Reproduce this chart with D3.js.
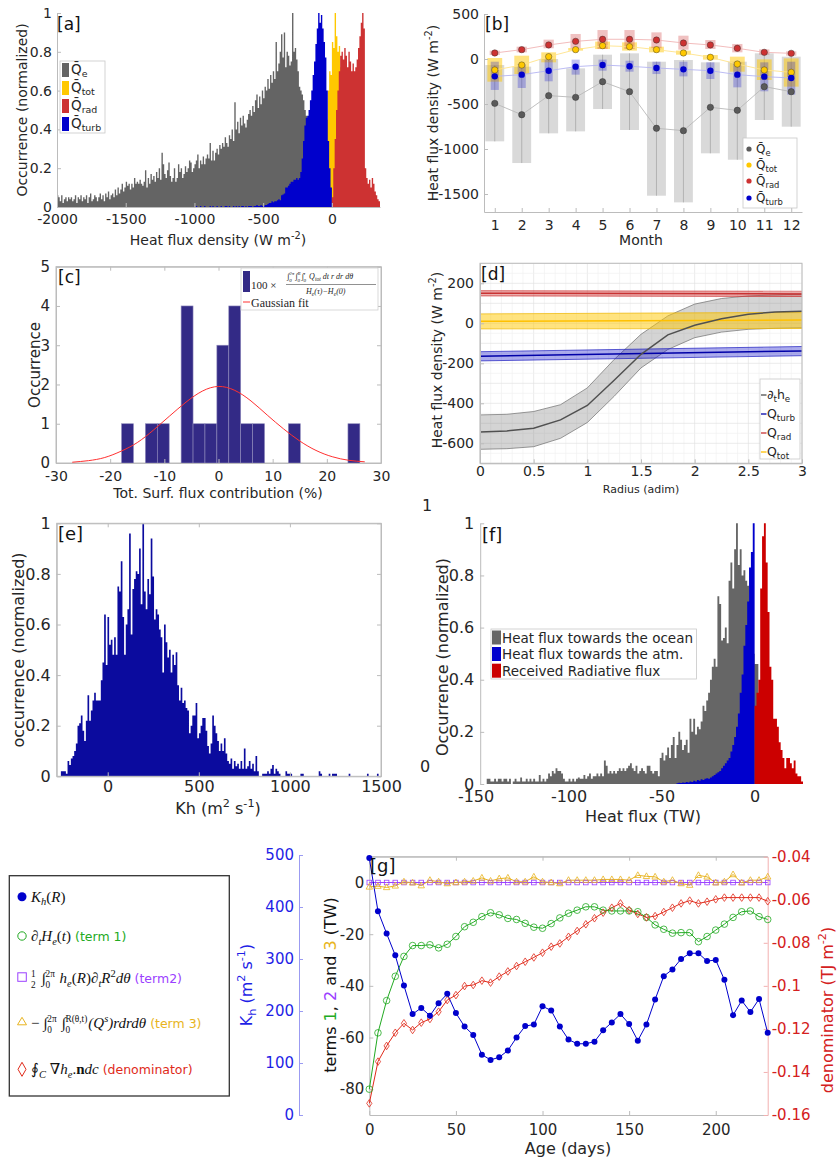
<!DOCTYPE html>
<html>
<head>
<script src="https://d3js.org/d3.v7.min.js"></script>
<style>
  body { margin: 0; background: #fff; }
  svg text { font-family: "DejaVu Sans", sans-serif; }
</style>
</head>
<body>
<svg id="fig" width="838" height="1160"></svg>
<script>
// ---------------- data ----------------
// [a] histograms, bin width 10 W m-2, value = normalized occurrence
const aBin = 10;
const aQeStart = -2000;
const aQe = [
  0.06,0.05,0.03,0.06,0.02,0.04,0.05,0.03,0.05,0.04,
  0.05,0.03,0.04,0.06,0.02,0.05,0.04,0.06,0.03,0.05,
  0.04,0.06,0.02,0.05,0.07,0.03,0.04,0.06,0.05,0.03,
  0.05,0.07,0.04,0.06,0.03,0.07,0.05,0.08,0.04,0.06,
  0.07,0.05,0.09,0.06,0.1,0.07,0.09,0.12,0.08,0.1,
  0.13,0.11,0.12,0.09,0.12,0.1,0.15,0.12,0.13,0.12,
  0.14,0.12,0.11,0.13,0.19,0.1,0.15,0.12,0.17,0.14,
  0.16,0.13,0.18,0.15,0.2,0.14,0.28,0.22,0.17,0.15,
  0.19,0.23,0.16,0.13,0.15,0.2,0.13,0.15,0.22,0.18,
  0.2,0.15,0.17,0.21,0.18,0.2,0.24,0.23,0.18,0.2,
  0.22,0.24,0.27,0.2,0.24,0.22,0.26,0.22,0.25,0.27,
  0.25,0.33,0.24,0.29,0.24,0.28,0.3,0.27,0.32,0.3,
  0.33,0.31,0.36,0.33,0.31,0.37,0.35,0.4,0.34,0.54,
  0.4,0.44,0.38,0.46,0.42,0.47,0.43,0.41,0.45,0.48,
  0.5,0.47,0.52,0.49,0.55,0.58,0.51,0.57,0.53,0.6,
  0.56,0.62,0.6,0.66,0.61,0.68,0.64,0.7,0.66,0.85,
  0.7,0.74,0.8,0.89,0.77,0.9,0.72,0.8,0.78,0.73,
  0.75,1.0,0.8,0.82,0.76,0.7,0.62,0.6,0.58,0.55,
  0.5,0.47,0.42,0.38,0.35,0.3,0.25,0.2,0.15,0.1,
  0.06,0.04,0.02,0.01,0,0
];
const aTurbStart = -1000;
const aTurb = [
  0,0.005,0,0,0.005,0,0,0.005,0,0,
  0,0.005,0,0.005,0,0,0.005,0,0,0.005,
  0,0,0.005,0.005,0,0.005,0,0,0.005,0,
  0.005,0,0.005,0,0.005,0.005,0,0.005,0,0.005,
  0.005,0.005,0,0.005,0.005,0.01,0.005,0.005,0.01,0.005,
  0.005,0.01,0.01,0.015,0.02,0.02,0.03,0.025,0.03,0.03,
  0.035,0.04,0.035,0.06,0.065,0.07,0.1,0.1,0.11,0.12,
  0.13,0.13,0.14,0.14,0.15,0.14,0.15,0.18,0.25,0.34,
  0.42,0.46,0.47,0.5,0.55,0.6,0.68,0.75,0.84,0.92,
  1.0,0.95,0.99,0.92,0.85,0.77,0.6,0.34,0.2,0.1
];
const aTotStart = -70;
const aTot = [0.03,0.1,0.3,0.45,0.6,0.7,0.68,0.85,0.82,1.0,0.88,0.8,0.83,0.72,0.55,0.35,0.15,0.05];
const aRadStart = 0;
const aRad = [0.05,0.2,0.35,0.5,0.6,0.7,0.78,0.8,0.76,0.82,0.78,0.72,0.8,0.75,0.7,0.74,0.7,0.72,
  0.76,0.82,0.88,0.95,1.0,0.92,0.2,0.15,0.12,0.14,0.1,0.15,0.12,0.08,0.06,0.04,0.03];
const aXTicks = [-2000, -1500, -1000, -500, 0];
const yTicks01 = [0, 0.2, 0.4, 0.6, 0.8, 1];

// [b] monthly statistics (W m-2)
const months = [1,2,3,4,5,6,7,8,9,10,11,12];
const bQeMean = [-493,-619,-407,-426,-252,-363,-770,-796,-537,-570,-307,-363];
const bQeHi   = [-67,-85,0,-104,48,63,-30,-11,-37,-30,63,26];
const bQeLo   = [-915,-1156,-826,-804,-556,-789,-1519,-1593,-1048,-1119,-678,-752];
const bTotMean = [-122,-67,26,104,148,137,104,67,19,-56,-122,-148];
const bTotHi   = [11,37,74,122,193,185,137,93,44,26,-4,7];
const bTotLo   = [-252,-167,-37,93,111,93,74,48,-7,-141,-233,-307];
const bRadMean = [67,104,156,196,219,219,211,178,156,119,74,63];
const bRadHi   = [93,137,215,278,322,322,296,259,211,167,107,85];
const bRadLo   = [44,74,119,119,111,111,119,104,111,74,48,37];
const bTurbMean = [-193,-174,-130,-85,-67,-81,-100,-115,-130,-174,-196,-211];
const bTurbHi   = [-30,-56,-7,-7,-7,-19,-30,-30,-37,-37,-37,-30];
const bTurbLo   = [-344,-322,-248,-174,-130,-141,-167,-193,-222,-315,-359,-396];
const bYTicks = [500, 0, -500, -1000, -1500];

// [c] histogram of contributions (%)
const cStart = -17.9, cBin = 2.2;
const cCounts = [1,0,1,1,0,4,1,1,3,4,1,1,0,0,1,0,0,0,0,1];
const cGaussX = [-27,-24,-21,-18,-15,-12,-9,-6,-3,0,3,6,9,12,15,18,21,24,27];
const cGaussY = [0.02,0.06,0.14,0.3,0.52,0.84,1.2,1.55,1.83,1.95,1.85,1.58,1.22,0.87,0.56,0.32,0.16,0.07,0.03];
const cXTicks = [-30,-20,-10,0,10,20,30];
const cYTicks = [0,1,2,3,4,5];

// [d] radial profiles (W m-2)
const dR    = [0,0.25,0.5,0.75,1,1.25,1.5,1.75,2,2.25,2.5,2.75,3];
const dHe   = [-543,-538,-525,-483,-411,-285,-155,-58,-10,23,45,57,60];
const dHeHi = [-458,-455,-441,-407,-323,-181,-55,37,96,124,137,142,146];
const dHeLo = [-630,-627,-617,-575,-496,-365,-223,-131,-72,-44,-30,-25,-22];
const dFlatR = [0, 3];
const dRad = [150,147], dRadHi = [163,160], dRadLo = [137,134];
const dTot = [10,16], dTotHi = [47,55], dTotLo = [-28,-26];
const dTurb = [-165,-138], dTurbHi = [-142,-116], dTurbLo = [-188,-162];
const dXTicks = [0,0.5,1,1.5,2,2.5,3];
const dYTicks = [200,0,-200,-400,-600];

// [e] Kh histogram
const eStart = -257, eBin = 9.13;
const eVals = [
  0.02,0.02,0.02,0.01,0.06,0.045,0.07,0.08,0.1,0.13,
  0.2,0.21,0.24,0.18,0.14,0.22,0.32,0.22,0.26,0.3,
  0.33,0.3,0.3,0.3,0.38,0.45,0.64,0.44,0.63,0.52,
  0.54,0.48,0.55,0.48,0.75,0.73,0.85,0.63,0.48,0.6,
  0.66,0.96,0.56,0.74,0.78,0.81,0.8,0.9,0.68,1.0,
  0.73,0.66,0.78,0.72,0.94,0.79,0.62,0.66,0.64,0.58,
  0.55,0.41,0.6,0.53,0.47,0.5,0.41,0.48,0.44,0.49,
  0.36,0.3,0.35,0.29,0.3,0.27,0.26,0.17,0.2,0.24,
  0.24,0.29,0.15,0.17,0.2,0.23,0.23,0.18,0.12,0.09,
  0.13,0.24,0.2,0.17,0.14,0.1,0.13,0.1,0.15,0.09,
  0.06,0.05,0.07,0.03,0.06,0.04,0.05,0.03,0.06,0.03,
  0.11,0.03,0.04,0.06,0.03,0.05,0.02,0.08,0.02,0,
  0,0.01,0.01,0.01,0.02,0.01,0.03,0.045,0.01,0.03,
  0.02,0.01,0,0,0,0.02,0.01,0.01,0.01,0,
  0,0,0,0,0.01,0.01,0,0,0,0,
  0,0,0,0,0,0.02,0.01,0,0,0,
  0,0.01,0,0.01,0.01,0.01,0,0,0,0,
  0,0,0,0.01,0,0,0,0,0,0,
  0,0,0,0,0.01,0,0,0,0,0,
  0.01
];
const eXTicks = [0,500,1000,1500];

// [f] integrated fluxes (TW), bin width 1
const fBin = 1;
const fGrayStart = -147;
const fGray = [
  0,0,0,0.02,0.02,0.01,0.01,0.02,0.01,0.02,
  0.02,0.01,0.02,0.02,0.01,0.02,0,0.01,0.02,0.01,
  0.01,0.025,0.01,0.01,0.02,0.01,0.02,0.01,0.02,0.01,
  0.01,0.035,0.01,0.02,0.01,0.02,0.04,0.03,0.05,0.04,
  0.06,0.05,0.05,0.04,0.02,0.01,0.01,0.02,0.01,0.02,
  0.01,0.02,0.025,0.02,0.02,0.035,0.02,0.03,0.04,0.02,
  0.03,0.03,0.04,0.03,0.04,0.03,0.09,0.07,0.04,0.05,
  0.04,0.05,0.04,0.05,0.06,0.05,0.06,0.05,0.06,0.07,
  0.08,0.06,0.05,0.07,0.04,0.05,0.06,0.05,0.04,0.07,
  0.07,0.05,0.04,0.05,0.05,0.03,0.1,0.12,0.09,0.11,
  0.14,0.1,0.15,0.18,0.1,0.15,0.2,0.17,0.13,0.15,
  0.17,0.12,0.25,0.2,0.25,0.19,0.22,0.21,0.24,0.3,
  0.28,0.32,0.35,0.4,0.45,0.48,0.45,0.72,0.69,0.55,
  0.56,0.6,0.54,0.78,0.85,0.75,0.9,1.0,0.84,0.9,
  0.8,0.82,0.78,0.76,0.7,0.6,0.5,0.46,0.46,0.3
];
const fBlueStart = -42;
const fBlue = [
  0.003,0.005,0.004,0.006,0.005,0.008,0.006,0.01,0.008,0.012,0.01,0.015,
  0.012,0.018,0.015,0.02,0.022,0.02,0.025,0.03,0.035,0.04,
  0.045,0.05,0.06,0.07,0.08,0.09,0.1,0.125,0.15,0.18,
  0.22,0.27,0.35,0.42,0.53,0.61,0.7,0.83,0.89,1.0
];
const fRedStart = 0;
const fRed = [0.3,0.35,0.4,0.75,0.95,1.0,0.85,0.66,0.45,0.4,0.25,0.25,0.22,0.16,0.13,0.1,0.06,0.1,0.1,0.08,0.06,0.09,0.04,0.03,0.03,0.01];
const fXTicks = [-150,-100,-50,0];

// [g] time series vs age (days)
const gDays = [0,5,10,15,20,25,30,35,40,45,50,55,60,65,70,75,80,85,90,95,100,105,110,115,120,125,130,135,140,145,150,155,160,165,170,175,180,185,190,195,200,205,210,215,220,225,230];
const gKh = [494,392,349,307,249,194,206,191,215,233,196,170,154,116,106,111,124,149,171,174,209,
  201,170,145,137,137,141,163,178,194,175,143,174,222,267,280,300,311,311,296,298,260,192,220,198,223,158];
const gTerm1 = [-80,-58.2,-45.7,-36.3,-28.6,-24.4,-24.4,-24.1,-25.3,-23.9,-20.9,-17.1,-15.4,-13.2,-11.7,-12.5,-13.9,-14.3,-15.8,-17.3,-17.7,
  -15.9,-13.7,-11.9,-10.7,-9.4,-9.4,-10.7,-11.0,-11.0,-11.0,-11.3,-13.5,-16.4,-18.1,-19.6,-19.4,-19.4,-22.9,-20.9,-18.4,-16.1,-13.5,-11.3,-11.0,-13.2,-14.3];
const gTerm2 = [0,0,0,0,0,0,0,0,0,0,0,0,0,0,0,0,0,0,0,0,0,0,0,0,0,0,0,0,0,0,0,0,0,0,0,0,0,0,0,0,0,0,0,0,0,0,0];
const gTerm3 = [-1.7,-1.4,-1.9,-1.3,0.3,-0.1,-1.2,0.9,0.3,-0.4,0,0.3,0.6,1.8,0.6,1.5,1.8,0.3,0.3,2.2,0.3,
  0,-0.4,0.9,0.9,0.9,0.9,1.2,1.2,1.2,0.9,2.8,2.4,2.2,0.3,0.9,-0.4,-1.0,2.8,2.2,-0.1,0.3,3.1,-0.1,0.9,0.9,2.2];
const gDenom = [-0.1546,-0.1352,-0.1279,-0.1218,-0.1174,-0.1205,-0.1171,-0.1154,-0.1120,-0.1066,-0.1043,-0.1001,-0.0996,-0.0976,-0.0985,-0.0957,-0.0933,-0.0908,-0.0888,-0.0868,-0.0846,
  -0.0818,-0.0803,-0.0772,-0.0745,-0.0714,-0.0686,-0.0660,-0.0637,-0.0617,-0.0648,-0.0666,-0.0682,-0.0676,-0.0657,-0.0637,-0.0617,-0.0604,-0.0617,-0.0609,-0.0598,-0.0590,-0.0590,-0.0590,-0.0590,-0.0590,-0.0607];
const gXTicks = [0,50,100,150,200];
const gYTicks = [0,-20,-40,-60,-80];
const gKhTicks = [0,100,200,300,400,500];
const gDenTicks = [-0.04,-0.06,-0.08,-0.1,-0.12,-0.14,-0.16];

// ---------------- helpers ----------------
const svg = d3.select('#fig');
const AX = '#bcbcbc';
const TXT = '#262626';
const SERIF = '"Liberation Serif", "DejaVu Serif", serif';

function styleAxis(g, size, color, lineColor) {
  g.selectAll('.domain').attr('stroke', lineColor || AX);
  g.selectAll('.tick line').attr('stroke', lineColor || AX);
  g.selectAll('.tick text').attr('font-size', size).attr('fill', color || TXT)
    .attr('font-family', '"DejaVu Sans", sans-serif');
}

// histogram drawn as one stepped area (no seams between neighbouring bins)
function histo(g, x, y, start, w, vals, fill) {
  const pts = vals.map((v, i) => ({ e: start + i * w, v }));
  pts.push({ e: start + vals.length * w, v: vals[vals.length - 1] });
  g.append('path').datum(pts)
    .attr('d', d3.area().curve(d3.curveStepAfter).x(d => x(d.e)).y0(y(0)).y1(d => y(d.v)))
    .attr('fill', fill);
}

function bars(g, x, y, start, w, vals, fill, stroke) {
  const data = vals.map((v, i) => ({ x0: start + i * w, x1: start + (i + 1) * w, v }))
    .filter(d => d.v > 0);
  g.selectAll(null).data(data).join('rect')
    .attr('x', d => x(d.x0)).attr('width', d => x(d.x1) - x(d.x0))
    .attr('y', d => y(d.v)).attr('height', d => y(0) - y(d.v))
    .attr('fill', fill).attr('stroke', stroke || 'none').attr('stroke-width', 0.6);
}

// text with tspans: parts = [text, kind, extra]; kind '', 'sub', 'sup', 'stack'
function rich(parent, x, y, parts, o = {}) {
  const size = o.size || 13;
  const t = parent.append('text').attr('x', x).attr('y', y)
    .attr('font-size', size).attr('text-anchor', o.anchor || 'start')
    .attr('fill', o.fill || TXT)
    .style('font-family', o.font || '"DejaVu Sans", sans-serif');
  if (o.rot) t.attr('transform', `rotate(-90,${x},${y})`);
  if (o.it) t.attr('font-style', 'italic');
  let cur = 0, pendingDx = 0;
  parts.forEach(p => {
    const s = p[0], k = p[1] || '', ext = p[2] || {};
    const sz = ext.size || size;
    if (k === 'stack') {
      // s = [lower, upper]
      const lo = t.append('tspan').text(s[0]).attr('font-size', sz * 0.62)
        .attr('dy', 0.32 * sz - cur).attr('dx', pendingDx);
      const loLen = lo.node().getComputedTextLength();
      const up = t.append('tspan').text(s[1]).attr('font-size', sz * 0.62)
        .attr('dy', -0.45 * sz - 0.32 * sz).attr('dx', -loLen);
      const upLen = up.node().getComputedTextLength();
      cur = -0.45 * sz;
      pendingDx = Math.max(0, loLen - upLen) + 1;
      return;
    }
    let off = 0, fs = sz;
    if (k === 'sup') { off = -0.42 * sz; fs = sz * 0.7; }
    if (k === 'sub') { off = 0.25 * sz; fs = sz * 0.7; }
    const ts = t.append('tspan').text(s).attr('dy', off - cur).attr('font-size', fs);
    if (pendingDx) ts.attr('dx', pendingDx + (ext.dx || 0));
    else if (ext.dx) ts.attr('dx', ext.dx);
    pendingDx = 0;
    cur = off;
    if (ext.fill) ts.attr('fill', ext.fill);
    if (ext.it === true) ts.attr('font-style', 'italic');
    if (ext.it === false) ts.attr('font-style', 'normal');
    if (ext.font) ts.style('font-family', ext.font);
    if (ext.bold) ts.attr('font-weight', 'bold');
  });
  return t;
}

function label(x, y, s, size) {
  svg.append('text').attr('x', x).attr('y', y).text(s)
    .attr('font-size', size || 17).attr('fill', '#111');
}

// ---------------- panel a ----------------
{
  const g = svg.append('g');
  const x = d3.scaleLinear().domain([-2000, 350]).range([57, 380]);
  const y = d3.scaleLinear().domain([0, 1]).range([207, 13]);
  histo(g, x, y, aQeStart, aBin, aQe, '#646464');
  histo(g, x, y, aTotStart, aBin, aTot, '#ffc800');
  histo(g, x, y, aTurbStart, aBin, aTurb, '#0000cc');
  histo(g, x, y, aRadStart, aBin, aRad, '#cd3232');
  g.append('g').attr('transform', 'translate(57,0)')
    .call(d3.axisLeft(y).tickValues(yTicks01).tickFormat(d => String(d)).tickSize(-4).tickSizeOuter(0).tickPadding(5))
    .call(styleAxis, 14);
  g.append('g').attr('transform', 'translate(0,207)')
    .call(d3.axisBottom(x).tickValues(aXTicks).tickFormat(d => String(d)).tickSize(-4).tickSizeOuter(0).tickPadding(7))
    .call(styleAxis, 14);
  rich(svg, 218, 245, [['Heat flux density (W m'], ['-2', 'sup'], [')']], { size: 14, anchor: 'middle' });
  rich(svg, 27, 110, [['Occurrence (normalized)']], { size: 14, anchor: 'middle', rot: true });
  label(57, 30, '[a]');
  // legend
  svg.append('rect').attr('x', 60).attr('y', 61).attr('width', 45).attr('height', 72)
    .attr('fill', '#fff').attr('stroke', '#c8c8c8').attr('stroke-width', 0.8);
  const items = [['e', '#646464'], ['tot', '#ffc800'], ['rad', '#cd3232'], ['turb', '#0000cc']];
  items.forEach((it, i) => {
    const cy = 70 + i * 18;
    svg.append('rect').attr('x', 62).attr('y', cy - 7).attr('width', 7).attr('height', 14).attr('fill', it[1]);
    rich(svg, 71, cy + 4, [['Q\u0304'], [it[0], 'sub']], { size: 13.5 });
  });
}

// ---------------- panel b ----------------
{
  const g = svg.append('g');
  const x = d3.scaleLinear().domain([0.6, 12.4]).range([484, 802]);
  const y = d3.scaleLinear().domain([-1700, 500]).range([212, 14]);
  const ux = x(1) - x(0);
  const boxes = (hi, lo, w, fill) => {
    g.selectAll(null).data(months).join('rect')
      .attr('x', (m) => x(m) - w * ux / 2).attr('width', w * ux)
      .attr('y', (m, i) => y(hi[i])).attr('height', (m, i) => Math.max(1.5, y(lo[i]) - y(hi[i])))
      .attr('fill', fill);
  };
  boxes(bQeHi, bQeLo, 0.7, '#d9d9d9');
  g.selectAll(null).data(months).join('line')
    .attr('x1', m => x(m)).attr('x2', m => x(m))
    .attr('y1', (m, i) => y(bQeHi[i])).attr('y2', (m, i) => y(bQeLo[i]))
    .attr('stroke', '#a8a8a8').attr('stroke-width', 0.8);
  boxes(bTotHi, bTotLo, 0.55, 'rgba(255,200,0,0.5)');
  boxes(bRadHi, bRadLo, 0.38, 'rgba(205,50,50,0.3)');
  boxes(bTurbHi, bTurbLo, 0.3, 'rgba(0,0,204,0.25)');
  const series = [[bQeMean, '#5a5a5a', '#b9b9b9'], [bTotMean, '#ffc800', '#ffe38a'],
                  [bRadMean, '#cd3232', '#f0b4b4'], [bTurbMean, '#0000cc', '#b4b4f2']];
  series.forEach(s => {
    g.append('path').datum(s[0])
      .attr('d', d3.line().x((d, i) => x(months[i])).y(d => y(d)))
      .attr('fill', 'none').attr('stroke', s[2]).attr('stroke-width', 0.9);
  });
  series.forEach(s => {
    g.selectAll(null).data(s[0]).join('circle')
      .attr('cx', (d, i) => x(months[i])).attr('cy', d => y(d)).attr('r', 3.2)
      .attr('fill', s[1]).attr('stroke', s[1] === '#0000cc' ? 'none' : 'rgba(40,40,40,0.7)').attr('stroke-width', 0.6);
  });
  g.append('g').attr('transform', 'translate(484,0)')
    .call(d3.axisLeft(y).tickValues(bYTicks).tickFormat(d => String(d)).tickSize(-4).tickSizeOuter(0).tickPadding(5))
    .call(styleAxis, 14);
  g.append('g').attr('transform', 'translate(0,212)')
    .call(d3.axisBottom(x).tickValues(months).tickFormat(d => String(d)).tickSize(-4).tickSizeOuter(0).tickPadding(8))
    .call(styleAxis, 14);
  rich(svg, 641, 245, [['Month']], { size: 14, anchor: 'middle' });
  rich(svg, 438, 113, [['Heat flux density (W m'], ['-2', 'sup'], [')']], { size: 14, anchor: 'middle', rot: true });
  label(485, 30, '[b]');
  svg.append('rect').attr('x', 743).attr('y', 138).attr('width', 54).attr('height', 70)
    .attr('fill', '#fff').attr('stroke', '#c8c8c8').attr('stroke-width', 0.8);
  const items = [['e', '#5a5a5a'], ['tot', '#ffc800'], ['rad', '#cd3232'], ['turb', '#0000cc']];
  items.forEach((it, i) => {
    const cy = [149, 165, 181, 198][i];
    svg.append('circle').attr('cx', 749).attr('cy', cy).attr('r', 2.6).attr('fill', it[1]);
    rich(svg, 756, cy + 4, [['Q\u0304'], [it[0], 'sub']], { size: 12 });
  });
}

// ---------------- panel c ----------------
{
  const g = svg.append('g');
  const x = d3.scaleLinear().domain([-30, 30]).range([56, 381]);
  const y = d3.scaleLinear().domain([0, 5]).range([463, 266.7]);
  g.append('rect').attr('x', 56).attr('y', 266.7).attr('width', 325).attr('height', 196.3)
    .attr('fill', 'none').attr('stroke', AX);
  bars(g, x, y, cStart, cBin, cCounts, '#332a86', '#8f8abb');
  g.append('path').datum(cGaussX)
    .attr('d', d3.line().curve(d3.curveNatural).x(d => x(d)).y((d, i) => y(cGaussY[i])))
    .attr('fill', 'none').attr('stroke', '#ff3030').attr('stroke-width', 1);
  g.append('g').attr('transform', 'translate(56,0)')
    .call(d3.axisLeft(y).tickValues(cYTicks).tickFormat(d => String(d)).tickSize(-4).tickSizeOuter(0).tickPadding(6))
    .call(styleAxis, 15);
  g.append('g').attr('transform', 'translate(381,0)')
    .call(d3.axisRight(y).tickValues(cYTicks).tickFormat('').tickSize(-4).tickSizeOuter(0))
    .call(styleAxis, 14);
  g.append('g').attr('transform', 'translate(0,463)')
    .call(d3.axisBottom(x).tickValues(cXTicks).tickFormat(d => String(d)).tickSize(-4).tickSizeOuter(0).tickPadding(8))
    .call(styleAxis, 14);
  g.append('g').attr('transform', 'translate(0,266.7)')
    .call(d3.axisTop(x).tickValues(cXTicks).tickFormat('').tickSize(-4).tickSizeOuter(0))
    .call(styleAxis, 14);
  rich(svg, 218, 498, [['Tot. Surf. flux contribution (%)']], { size: 14, anchor: 'middle' });
  rich(svg, 40, 365, [['Occurrence']], { size: 15, anchor: 'middle', rot: true });
  label(58, 283, '[c]');
  // legend
  svg.append('rect').attr('x', 241).attr('y', 268).attr('width', 137).attr('height', 42)
    .attr('fill', '#fff').attr('stroke', '#cfcfcf').attr('stroke-width', 0.8);
  svg.append('rect').attr('x', 243).attr('y', 271).attr('width', 7).attr('height', 21).attr('fill', '#332a86');
  rich(svg, 251, 289, [['100 \u00d7']], { size: 11, font: SERIF });
  rich(svg, 287, 279, [
    ['\u222b'], [['0', '2\u03c0'], 'stack'], ['\u222b'], [['0', 'R'], 'stack'],
    ['\u222b'], [['0', '\u03c4'], 'stack'], [' Q'], ['tot', 'sub'], [' dt  r dr d\u03b8']
  ], { size: 8, font: SERIF, it: true });
  svg.append('line').attr('x1', 286).attr('x2', 376).attr('y1', 284.5).attr('y2', 284.5)
    .attr('stroke', '#222').attr('stroke-width', 0.5);
  rich(svg, 306, 294, [['H'], ['e', 'sub'], ['(\u03c4)\u2212H'], ['e', 'sub'], ['(0)']], { size: 8, font: SERIF, it: true });
  svg.append('line').attr('x1', 243).attr('x2', 250).attr('y1', 302).attr('y2', 302)
    .attr('stroke', '#ff3030').attr('stroke-width', 1);
  rich(svg, 251, 306.5, [['Gaussian fit']], { size: 12, font: SERIF });
}

// ---------------- panel d ----------------
{
  const g = svg.append('g');
  const x = d3.scaleLinear().domain([0, 3]).range([480, 802]);
  const y = d3.scaleLinear().domain([-700, 300]).range([463.3, 263.3]);
  const minorX = d3.range(0, 31).map(i => i / 10);
  const minorY = d3.range(-700, 301, 50);
  g.selectAll(null).data(minorX).join('line')
    .attr('x1', d => x(d)).attr('x2', d => x(d)).attr('y1', 263.3).attr('y2', 463.3)
    .attr('stroke', d => (Math.round(d * 10) % 5 === 0) ? '#e2e2e2' : '#f1f1f1').attr('stroke-width', 0.7);
  g.selectAll(null).data(minorY).join('line')
    .attr('y1', d => y(d)).attr('y2', d => y(d)).attr('x1', 480).attr('x2', 802)
    .attr('stroke', d => (d % 100 === 0) ? '#e2e2e2' : '#f1f1f1').attr('stroke-width', 0.7);
  const band = (r, hi, lo, fill, edge) => {
    g.append('path').datum(r)
      .attr('d', d3.area().x(d => x(d)).y0((d, i) => y(lo[i])).y1((d, i) => y(hi[i])))
      .attr('fill', fill);
    [hi, lo].forEach(arr => g.append('path').datum(r)
      .attr('d', d3.line().x(d => x(d)).y((d, i) => y(arr[i])))
      .attr('fill', 'none').attr('stroke', edge).attr('stroke-width', 0.7));
  };
  band(dR, dHeHi, dHeLo, 'rgba(120,120,120,0.32)', '#6e6e6e');
  band(dFlatR, dRadHi, dRadLo, 'rgba(205,50,50,0.4)', '#cd3232');
  band(dFlatR, dTotHi, dTotLo, 'rgba(255,200,0,0.5)', '#f0b800');
  band(dFlatR, dTurbHi, dTurbLo, 'rgba(0,0,200,0.33)', '#2020c0');
  const line = (r, arr, c) => g.append('path').datum(r)
    .attr('d', d3.line().x(d => x(d)).y((d, i) => y(arr[i])))
    .attr('fill', 'none').attr('stroke', c).attr('stroke-width', 1.5);
  line(dFlatR, dRad, '#c83232');
  line(dFlatR, dTot, '#ffc000');
  line(dFlatR, dTurb, '#0000a8');
  line(dR, dHe, '#505050');
  g.append('rect').attr('x', 480).attr('y', 263.3).attr('width', 322).attr('height', 200)
    .attr('fill', 'none').attr('stroke', AX);
  g.append('g').attr('transform', 'translate(480,0)')
    .call(d3.axisLeft(y).tickValues(dYTicks).tickFormat(d => String(d)).tickSize(-4).tickSizeOuter(0).tickPadding(6))
    .call(styleAxis, 14);
  g.append('g').attr('transform', 'translate(0,463.3)')
    .call(d3.axisBottom(x).tickValues(dXTicks).tickFormat(d => String(d)).tickSize(-4).tickSizeOuter(0).tickPadding(3))
    .call(styleAxis, 14);
  rich(svg, 641, 493, [['Radius (adim)']], { size: 11, anchor: 'middle' });
  rich(svg, 442, 360, [['Heat flux density (W m'], ['-2', 'sup'], [')']], { size: 14, anchor: 'middle', rot: true });
  label(481, 280, '[d]');
  svg.append('rect').attr('x', 760).attr('y', 379).attr('width', 40).attr('height', 80)
    .attr('fill', '#fff').attr('stroke', '#c8c8c8').attr('stroke-width', 0.8);
  const items = [
    [[['\u2202'], ['t', 'sub'], ['h'], ['e', 'sub']], '#505050'],
    [[['Q'], ['turb', 'sub']], '#0000a8'],
    [[['Q'], ['rad', 'sub']], '#c83232'],
    [[['Q'], ['tot', 'sub']], '#ffc000']
  ];
  items.forEach((it, i) => {
    const cy = [395, 414, 433, 452][i];
    svg.append('line').attr('x1', 761).attr('x2', 766.5).attr('y1', cy).attr('y2', cy)
      .attr('stroke', it[1]).attr('stroke-width', 1.3);
    rich(svg, 767, cy + 4, it[0], { size: 12.5 });
  });
}

// ---------------- panel e ----------------
{
  const g = svg.append('g');
  const x = d3.scaleLinear().domain([-280, 1500]).range([56.7, 381]);
  const y = d3.scaleLinear().domain([0, 1]).range([776.3, 523.3]);
  histo(g, x, y, eStart, eBin, eVals, '#0b0b9e');
  g.append('rect').attr('x', 56.7).attr('y', 523.3).attr('width', 324.3).attr('height', 253)
    .attr('fill', 'none').attr('stroke', AX);
  g.append('g').attr('transform', 'translate(56.7,0)')
    .call(d3.axisLeft(y).tickValues(yTicks01).tickFormat(d => String(d)).tickSize(-4).tickSizeOuter(0).tickPadding(6))
    .call(styleAxis, 16);
  g.append('g').attr('transform', 'translate(381,0)')
    .call(d3.axisRight(y).tickValues(yTicks01).tickFormat('').tickSize(-4).tickSizeOuter(0))
    .call(styleAxis, 16);
  g.append('g').attr('transform', 'translate(0,776.3)')
    .call(d3.axisBottom(x).tickValues(eXTicks).tickFormat(d => String(d)).tickSize(-4).tickSizeOuter(0).tickPadding(4))
    .call(styleAxis, 16);
  g.append('g').attr('transform', 'translate(0,523.3)')
    .call(d3.axisTop(x).tickValues(eXTicks).tickFormat('').tickSize(-4).tickSizeOuter(0))
    .call(styleAxis, 16);
  rich(svg, 218, 814, [['Kh (m'], ['2', 'sup'], [' s'], ['-1', 'sup'], [')']], { size: 16, anchor: 'middle' });
  rich(svg, 24, 650, [['occurrence (normalized)']], { size: 16, anchor: 'middle', rot: true });
  label(58, 540, '[e]', 18);
}

// ---------------- panel f ----------------
{
  const g = svg.append('g');
  const x = d3.scaleLinear().domain([-147.5, 26]).range([480.2, 803]);
  const y = d3.scaleLinear().domain([0, 1]).range([784, 523.3]);
  histo(g, x, y, fGrayStart, fBin, fGray, '#666666');
  histo(g, x, y, fBlueStart, fBin, fBlue, '#0000cd');
  histo(g, x, y, fRedStart, fBin, fRed, '#cc0000');
  g.append('g').attr('transform', 'translate(480.2,0)')
    .call(d3.axisLeft(y).tickValues(yTicks01).tickFormat(d => String(d)).tickSize(-4).tickSizeOuter(0).tickPadding(6))
    .call(styleAxis, 16);
  g.append('g').attr('transform', 'translate(0,784)')
    .call(d3.axisBottom(x).tickValues(fXTicks).tickFormat(d => String(d)).tickSize(0).tickSizeOuter(0).tickPadding(7))
    .call(styleAxis, 16)
    .call(s => s.select('.domain').attr('stroke', 'none'));
  rich(svg, 643, 822, [['Heat flux (TW)']], { size: 16, anchor: 'middle' });
  rich(svg, 448, 657, [['Occurrence (normalized)']], { size: 16, anchor: 'middle', rot: true });
  rich(svg, 427, 511, [['1']], { size: 16, anchor: 'middle' });
  rich(svg, 425, 772, [['0']], { size: 16, anchor: 'middle' });
  label(482, 541, '[f]', 18);
  svg.append('rect').attr('x', 491).attr('y', 629).attr('width', 205.5).attr('height', 50)
    .attr('fill', '#fff').attr('stroke', '#c8c8c8').attr('stroke-width', 0.8);
  const items = [['Heat flux towards the ocean', '#666666'], ['Heat flux towards the atm.', '#0000cd'], ['Received Radiative flux', '#cc0000']];
  items.forEach((it, i) => {
    const cy = [637.5, 654, 670.7][i];
    svg.append('rect').attr('x', 492).attr('y', cy - 7).attr('width', 9).attr('height', 14).attr('fill', it[1]);
    rich(svg, 502, cy + 5, [[it[0]]], { size: 13.5 });
  });
}

// ---------------- panel g ----------------
{
  const g = svg.append('g');
  const x = d3.scaleLinear().domain([0, 230]).range([369.3, 767.7]);
  const y = d3.scaleLinear().domain([-90, 10]).range([1115, 856.7]);
  const yK = d3.scaleLinear().domain([0, 500]).range([1115, 855]);
  const yD = d3.scaleLinear().domain([-0.16, -0.04]).range([1115, 856.7]);
  const BLUE = '#0000cc', GREEN = '#22aa22', RED = '#e02a1a', PURPLE = '#9b40ff', ORANGE = '#e8b420';

  // frame
  g.append('line').attr('x1', 369.3).attr('x2', 767.7).attr('y1', 856.7).attr('y2', 856.7).attr('stroke', AX);
  g.append('g').attr('transform', 'translate(0,856.7)')
    .call(d3.axisTop(x).tickValues(gXTicks).tickFormat('').tickSize(-4).tickSizeOuter(0))
    .call(styleAxis, 15);
  g.append('g').attr('transform', 'translate(0,1115)')
    .call(d3.axisBottom(x).tickValues(gXTicks).tickFormat(d => String(d)).tickSize(-4).tickSizeOuter(0).tickPadding(9))
    .call(styleAxis, 15);
  g.append('g').attr('transform', 'translate(369.3,0)')
    .call(d3.axisLeft(y).tickValues(gYTicks).tickFormat(d => String(d)).tickSize(-4).tickSizeOuter(0).tickPadding(5))
    .call(styleAxis, 15);
  g.append('g').attr('transform', 'translate(767.7,0)')
    .call(d3.axisRight(yD).tickValues(gDenTicks).tickFormat(d => String(d)).tickSize(-4).tickSizeOuter(0).tickPadding(4))
    .call(styleAxis, 15, '#d42020', '#f2b0b0');
  g.append('g').attr('transform', 'translate(299,0)')
    .call(d3.axisLeft(yK).tickValues(gKhTicks).tickFormat(d => String(d)).tickSize(-4).tickSizeOuter(0).tickPadding(5))
    .call(styleAxis, 15, '#1f1fe6', '#9b9bf2');

  const lineOf = (arr, sc) => d3.line().x((d, i) => x(gDays[i])).y(d => sc(d))(arr);
  g.append('path').attr('d', lineOf(gTerm2, y)).attr('fill', 'none').attr('stroke', PURPLE).attr('stroke-width', 1);
  g.append('path').attr('d', lineOf(gTerm3, y)).attr('fill', 'none').attr('stroke', ORANGE).attr('stroke-width', 1);
  g.append('path').attr('d', lineOf(gTerm1, y)).attr('fill', 'none').attr('stroke', GREEN).attr('stroke-width', 1);
  g.append('path').attr('d', lineOf(gDenom, yD)).attr('fill', 'none').attr('stroke', RED).attr('stroke-width', 1);
  g.append('path').attr('d', lineOf(gKh, yK)).attr('fill', 'none').attr('stroke', BLUE).attr('stroke-width', 1);

  g.selectAll(null).data(gTerm2).join('rect')
    .attr('x', (d, i) => x(gDays[i]) - 2.3).attr('y', d => y(d) - 2.3).attr('width', 4.6).attr('height', 4.6)
    .attr('fill', 'none').attr('stroke', PURPLE).attr('stroke-width', 0.8);
  g.selectAll(null).data(gTerm3).join('path')
    .attr('d', (d, i) => { const cx = x(gDays[i]), cy = y(d); return `M${cx},${cy - 3.5}L${cx + 3.2},${cy + 2.2}L${cx - 3.2},${cy + 2.2}Z`; })
    .attr('fill', 'none').attr('stroke', ORANGE).attr('stroke-width', 0.8);
  g.selectAll(null).data(gTerm1).join('circle')
    .attr('cx', (d, i) => x(gDays[i])).attr('cy', d => y(d)).attr('r', 3.3)
    .attr('fill', 'none').attr('stroke', GREEN).attr('stroke-width', 0.8);
  g.selectAll(null).data(gDenom).join('path')
    .attr('d', (d, i) => { const cx = x(gDays[i]), cy = yD(d); return `M${cx},${cy - 3.8}L${cx + 2.6},${cy}L${cx},${cy + 3.8}L${cx - 2.6},${cy}Z`; })
    .attr('fill', 'none').attr('stroke', RED).attr('stroke-width', 0.8);
  g.selectAll(null).data(gKh).join('circle')
    .attr('cx', (d, i) => x(gDays[i])).attr('cy', d => yK(d)).attr('r', 3)
    .attr('fill', BLUE);

  rich(svg, 568, 1154, [['Age (days)']], { size: 16, anchor: 'middle' });
  rich(svg, 336, 985, [['terms '], ['1', '', { fill: GREEN }], [', '], ['2', '', { fill: PURPLE }], [' and '], ['3', '', { fill: ORANGE }], [' (TW)']],
    { size: 16, anchor: 'middle', rot: true, fill: '#111' });
  rich(svg, 252, 985, [['K'], ['h', 'sub'], [' (m'], ['2', 'sup'], [' s'], ['-1', 'sup'], [')']],
    { size: 16, anchor: 'middle', rot: true, fill: '#1f1fe6' });
  rich(svg, 833, 1010, [['denominator (TJ m'], ['-2', 'sup'], [')']],
    { size: 16, anchor: 'middle', rot: true, fill: '#d42020' });
  label(370, 872, '[g]', 18);

  // legend box
  svg.append('rect').attr('x', 9.3).attr('y', 875.7).attr('width', 220).attr('height', 220.3)
    .attr('fill', '#fff').attr('stroke', '#333').attr('stroke-width', 1.3);
  const ly = [896.7, 936, 978.3, 1023.3, 1069.3];
  svg.append('circle').attr('cx', 22).attr('cy', ly[0]).attr('r', 4.5).attr('fill', BLUE);
  svg.append('circle').attr('cx', 22).attr('cy', ly[1]).attr('r', 4.2).attr('fill', 'none').attr('stroke', GREEN).attr('stroke-width', 1);
  svg.append('rect').attr('x', 17.8).attr('y', ly[2] - 5.5).attr('width', 8.5).attr('height', 8.5).attr('fill', 'none').attr('stroke', PURPLE).attr('stroke-width', 1);
  svg.append('path').attr('d', `M22,${ly[3] - 6}L26.5,${ly[3] + 1.5}L17.5,${ly[3] + 1.5}Z`).attr('fill', 'none').attr('stroke', ORANGE).attr('stroke-width', 1);
  svg.append('path').attr('d', `M22,${ly[4] - 7}L26,${ly[4]}L22,${ly[4] + 7}L18,${ly[4]}Z`).attr('fill', 'none').attr('stroke', RED).attr('stroke-width', 1);
  const M = { size: 15, font: SERIF, fill: '#111' };
  const tag = (s, c) => [s, '', { font: '"DejaVu Sans", sans-serif', fill: c, it: false, size: 12.5 }];
  rich(svg, 31, ly[0] + 5, [['K', '', { it: true }], ['h', 'sub', { it: true }], ['(', ''], ['R', '', { it: true }], [')']], M);
  rich(svg, 31, ly[1] + 5, [['\u2202'], ['t', 'sub', { it: true }], ['H', '', { it: true }], ['e', 'sub', { it: true }], ['('], ['t', '', { it: true }], [')'],
    tag('  (term 1)', GREEN)], M);
  rich(svg, 31, ly[2] + 5, [[['2', '1'], 'stack'], [' \u222b', '', { dx: 1 }], [['0', '2\u03c0'], 'stack'], [' h', '', { it: true }], ['e', 'sub', { it: true }],
    ['('], ['R', '', { it: true }], [')\u2202'], ['t', 'sub', { it: true }], ['R', '', { it: true }], ['2', 'sup'], ['d\u03b8', '', { it: true }],
    tag('  (term2)', PURPLE)], M);
  rich(svg, 31, ly[3] + 5, [['\u2212 \u222b'], [['0', '2\u03c0'], 'stack'], [' \u222b'], [['0', 'R(\u03b8,t)'], 'stack'], ['(Q', '', { it: true }], ['s', 'sup', { it: true }],
    [')rdrd\u03b8', '', { it: true }], tag('  (term 3)', ORANGE)], M);
  rich(svg, 31, ly[4] + 5, [['\u222e'], ['C', 'sub', { it: true }], [' \u2207h', '', { it: true }], ['e', 'sub', { it: true }], ['.'], ['n', '', { bold: true }],
    ['dc', '', { it: true }], tag('  (denominator)', RED)], M);
}
</script>
</body>
</html>
